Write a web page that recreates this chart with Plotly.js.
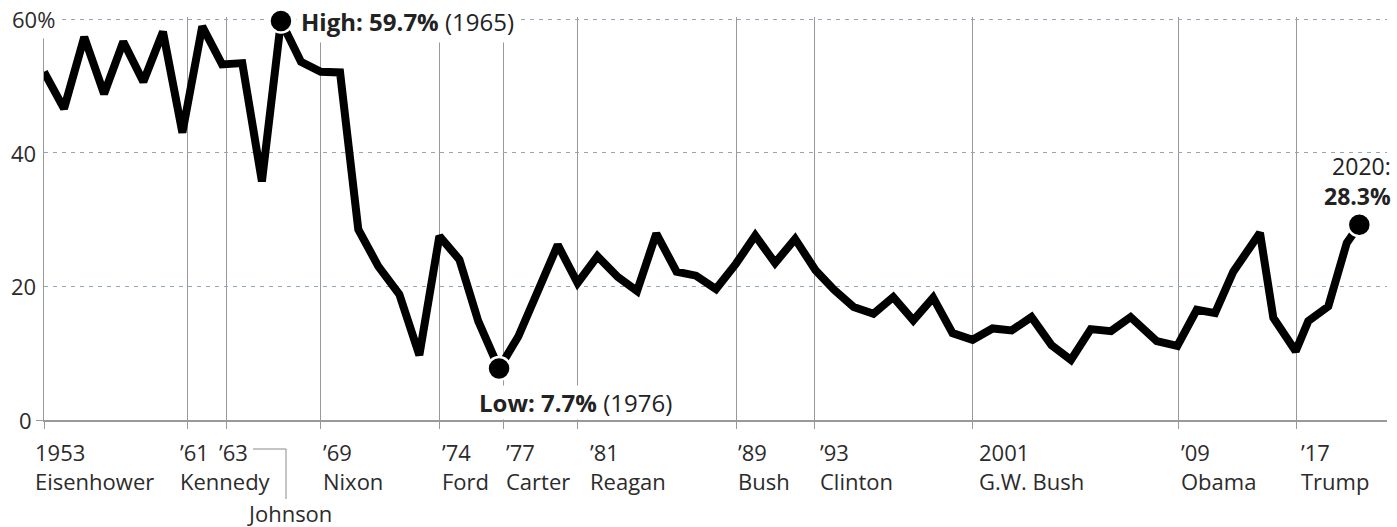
<!DOCTYPE html>
<html>
<head>
<meta charset="utf-8">
<script src="https://cdn.plot.ly/plotly-3.0.1.min.js"></script>
<style>
  html, body { margin: 0; padding: 0; background: #ffffff; }
  #chart { width: 1397px; height: 527px; }
</style>
</head>
<body>
<div id="chart"></div>
<script>
// ---- data ----
// plotted time positions (decimal years, as placed on the reference's axis), 1953 ... 2020
const dates = [
  1953.00,1954.02,1955.05,1956.06,1957.04,1958.06,1959.06,1960.05,1961.06,1962.07,
  1963.10,1964.10,1965.07,1966.09,1967.10,1968.08,1969.01,1970.03,1971.10,1972.12,
  1973.14,1974.16,1975.12,1976.18,1977.16,1978.18,1979.17,1980.18,1981.19,1982.23,
  1983.21,1984.19,1985.22,1986.21,1987.23,1988.25,1989.23,1990.24,1991.26,1992.30,
  1993.24,1994.24,1995.25,1996.26,1997.28,1998.29,1999.28,2000.30,2001.32,2002.29,
  2003.30,2004.32,2005.31,2006.32,2007.35,2008.35,2009.68,2010.73,2011.72,2012.65,
  2013.58,2014.94,2015.62,2016.76,2017.40,2018.42,2019.36,2020.00
];
const values = [
  52.1,46.6,57.3,48.8,56.6,50.6,58.1,43.0,58.9,53.2,
  53.4,35.7,59.7,53.6,52.1,52.0,28.5,23.0,18.8,9.7,
  27.5,24.0,14.8,7.7,12.5,19.5,26.2,20.5,24.5,21.4,
  19.3,27.9,22.2,21.6,19.6,23.4,27.6,23.5,27.1,22.4,
  19.5,16.9,15.9,18.4,14.9,18.3,13.0,12.0,13.7,13.4,
  15.4,11.2,9.0,13.6,13.3,15.4,11.8,11.1,16.5,16.0,
  22.2,28.0,15.3,10.3,14.8,17.0,26.5,29.2
];
// highlighted points: high (1965), low (1976), latest (2020)
const highlightIdx = [12, 23, 67];

// presidential term markers
const termTicks = [1953.00,1960.32,1962.32,1967.10,1973.14,1976.40,1980.18,1988.25,1992.26,2000.29,2010.81,2016.79];
const termYearLabels = ['1953','\u201961','\u201963','\u201969','\u201974','\u201977','\u201981','\u201989','\u201993','2001','\u201909','\u201917'];
const presidents = ['Eisenhower','Kennedy','Johnson','Nixon','Ford','Carter','Reagan','Bush','Clinton','G.W. Bush','Obama','Trump'];

const yTicks = [0, 20, 40, 60];
const yTickLabels = ['0', '20', '40', '60%'];

const highText = '<b>High: 59.7%</b> (1965)';
const lowText = '<b>Low: 7.7%</b> (1976)';
const lastText = '2020:<br><b>28.3%</b>';

// ---- styling / layout ----
const FONT = 'Open Sans, sans-serif';
const TXT = '#2b2b2b';
const GRID_V = '#999999';
const GRID_H = '#93a5b9';
const labelShift = [-11,-10,-10,0,1,1,10,0,3,5,0,3];

const lineTrace = {
  type: 'scatter', mode: 'lines',
  x: dates, y: values,
  line: { color: '#000000', width: 8 },
  cliponaxis: false, hoverinfo: 'skip', showlegend: false
};
const dotTrace = {
  type: 'scatter', mode: 'markers',
  x: highlightIdx.map(i => dates[i]),
  y: highlightIdx.map(i => values[i]),
  marker: { color: '#000000', size: 23, line: { color: '#ffffff', width: 2.5 } },
  cliponaxis: false, hoverinfo: 'skip', showlegend: false
};

const annotations = [];
// y tick labels
yTicks.forEach((v, i) => {
  const isTop = i === yTicks.length - 1;
  annotations.push({
    xref: 'paper', yref: 'y', x: 0, y: v,
    text: yTickLabels[i], showarrow: false,
    xanchor: isTop ? 'left' : 'right', yanchor: 'middle',
    xshift: isTop ? -37 : (v === 0 ? -10 : -6),
    bgcolor: isTop ? '#ffffff' : 'rgba(0,0,0,0)',
    borderpad: isTop ? 4 : 1,
    font: { family: FONT, size: 22, color: TXT }
  });
});
// x labels: year + president
termTicks.forEach((t, i) => {
  const isJohnson = presidents[i] === 'Johnson';
  annotations.push({
    xref: 'x', yref: 'paper', x: t, y: 0,
    text: termYearLabels[i], showarrow: false,
    xanchor: 'left', yanchor: 'middle', xshift: labelShift[i], yshift: -32,
    font: { family: FONT, size: 22, color: TXT }
  });
  if (isJohnson) {
    annotations.push({
      xref: 'paper', yref: 'paper', x: (289 - 44) / 1343, y: 0,
      text: presidents[i], showarrow: false,
      xanchor: 'center', yanchor: 'middle', yshift: -93, borderpad: 0,
      font: { family: FONT, size: 22, color: TXT }
    });
  } else {
    annotations.push({
      xref: 'x', yref: 'paper', x: t, y: 0,
      text: presidents[i], showarrow: false,
      xanchor: 'left', yanchor: 'middle', xshift: labelShift[i], yshift: -61,
      font: { family: FONT, size: 22, color: TXT }
    });
  }
});
// high / low / latest labels
const [hi, lo, last] = highlightIdx;
annotations.push({
  xref: 'x', yref: 'y', x: dates[hi], y: values[hi],
  text: highText, showarrow: false, xanchor: 'left', yanchor: 'middle',
  xshift: 15, yshift: 0, bgcolor: '#ffffff', borderpad: 4,
  font: { family: FONT, size: 24, color: '#222222' }
});
annotations.push({
  xref: 'x', yref: 'y', x: dates[lo], y: values[lo],
  text: lowText, showarrow: false, xanchor: 'left', yanchor: 'middle',
  xshift: -21, yshift: -34, bgcolor: '#ffffff', borderpad: 0,
  font: { family: FONT, size: 24, color: '#222222' }
});
annotations.push({
  xref: 'x', yref: 'y', x: dates[last], y: values[last],
  text: lastText, showarrow: false, xanchor: 'right', yanchor: 'middle', align: 'right',
  xshift: 33, yshift: 44, borderpad: 0,
  font: { family: FONT, size: 23, color: '#222222' }
});

const layout = {
  width: 1397, height: 527,
  margin: { l: 44, r: 10, t: 17, b: 107, pad: 0 },
  paper_bgcolor: '#ffffff', plot_bgcolor: '#ffffff',
  showlegend: false,
  font: { family: FONT, size: 22, color: TXT },
  xaxis: {
    range: [1953, 2021.41], fixedrange: true,
    tickmode: 'array', tickvals: termTicks, showticklabels: false,
    ticks: 'outside', ticklen: 7, tickcolor: GRID_V, tickwidth: 1,
    showgrid: true, gridcolor: GRID_V, gridwidth: 1,
    showline: true, linecolor: '#999999', linewidth: 2,
    zeroline: false
  },
  yaxis: {
    range: [0, 60.3], fixedrange: true,
    tickmode: 'array', tickvals: yTicks, showticklabels: false,
    ticks: '',
    minor: { tickvals: [0], ticks: 'outside', ticklen: 7, tickcolor: GRID_V, tickwidth: 1, showgrid: false },
    showgrid: true, gridcolor: GRID_H, gridwidth: 1, griddash: '4px,5px',
    showline: true, linecolor: GRID_V, linewidth: 1,
    zeroline: false
  },
  shapes: [{
    type: 'path', xref: 'paper', yref: 'paper', layer: 'above',
    path: 'M ' + ((253 - 44) / 1343) + ' ' + (-29 / 403) +
          ' L ' + ((286 - 44) / 1343) + ' ' + (-29 / 403) +
          ' L ' + ((286 - 44) / 1343) + ' ' + (-79 / 403),
    line: { color: '#8a8a8a', width: 1 }
  }],
  annotations: annotations
};

Plotly.newPlot('chart', [lineTrace, dotTrace], layout, { displayModeBar: false, staticPlot: true });
</script>
</body>
</html>
